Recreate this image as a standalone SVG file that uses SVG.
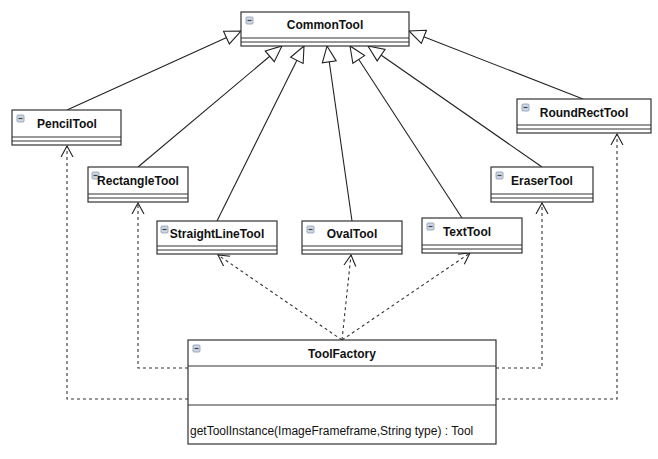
<svg xmlns="http://www.w3.org/2000/svg" width="658" height="459" viewBox="0 0 658 459">
<style>
.box{fill:#fff;stroke:#333;stroke-width:1.2}
.div{stroke:#333;stroke-width:1}
.t{font-family:"Liberation Sans",Arial,sans-serif;font-weight:bold;font-size:12px;fill:#111;text-anchor:middle}
.m{font-family:"Liberation Sans",Arial,sans-serif;font-size:12px;fill:#111}
.ic{fill:#cdd8e6;stroke:#8a9ab0;stroke-width:0.8}
.icd{stroke:#444;stroke-width:1.2}
.gen{fill:none;stroke:#222;stroke-width:1.1;marker-end:url(#tri)}
.dep{fill:none;stroke:#333;stroke-width:1.1;stroke-dasharray:3,3;marker-end:url(#open)}
</style>
<defs>
<marker id="tri" viewBox="0 0 18 16" refX="17" refY="8" markerWidth="18" markerHeight="16" markerUnits="userSpaceOnUse" orient="auto">
<path d="M1,1 L17,8 L1,15 Z" fill="#fff" stroke="#222" stroke-width="1.1"/>
</marker>
<marker id="open" viewBox="0 0 12 14" refX="11" refY="7" markerWidth="12" markerHeight="14" markerUnits="userSpaceOnUse" orient="auto">
<path d="M0,1 L11,7 L0,13" fill="none" stroke="#222" stroke-width="1.1"/>
</marker>
<g id="icon"><rect class="ic" x="0" y="0" width="7" height="7" rx="1"/><line class="icd" x1="1.5" y1="3.5" x2="5.5" y2="3.5"/></g>
</defs>

<g id="connectors">
<path class="gen" d="M67,110 L241,31"/>
<path class="gen" d="M138,167 L282,46"/>
<path class="gen" d="M217,221 L304,46"/>
<path class="gen" d="M352,221 L327,46"/>
<path class="gen" d="M462,218 L350,46"/>
<path class="gen" d="M542,167 L368,46"/>
<path class="gen" d="M583,99 L409,31"/>
<path class="dep" d="M188,399 H67 V146"/>
<path class="dep" d="M188,368 H138 V203"/>
<path class="dep" d="M496,368 H542 V203"/>
<path class="dep" d="M496,399 H617 V134"/>
<path class="dep" d="M342,340 L218,255"/>
<path class="dep" d="M342,340 L351,255"/>
<path class="dep" d="M342,340 L470,253"/>
</g>

<g id="CommonTool">
<rect class="box" x="241" y="12" width="168" height="34"/>
<line class="div" x1="241" y1="38" x2="409" y2="38"/>
<line class="div" x1="241" y1="42" x2="409" y2="42"/>
<use href="#icon" x="246" y="17"/>
<text class="t" x="325" y="29">CommonTool</text>
</g>

<g id="PencilTool">
<rect class="box" x="12" y="110" width="109" height="35"/>
<line class="div" x1="12" y1="137" x2="121" y2="137"/>
<line class="div" x1="12" y1="141" x2="121" y2="141"/>
<use href="#icon" x="17" y="115"/>
<text class="t" x="67" y="128">PencilTool</text>
</g>

<g id="RectangleTool">
<rect class="box" x="88" y="167" width="100" height="35"/>
<line class="div" x1="88" y1="194" x2="188" y2="194"/>
<line class="div" x1="88" y1="198" x2="188" y2="198"/>
<use href="#icon" x="92" y="172"/>
<text class="t" x="138" y="185">RectangleTool</text>
</g>

<g id="StraightLineTool">
<rect class="box" x="157" y="221" width="120" height="33"/>
<line class="div" x1="157" y1="246" x2="277" y2="246"/>
<line class="div" x1="157" y1="250" x2="277" y2="250"/>
<use href="#icon" x="161" y="226"/>
<text class="t" x="217" y="238">StraightLineTool</text>
</g>

<g id="OvalTool">
<rect class="box" x="302" y="221" width="100" height="33"/>
<line class="div" x1="302" y1="246" x2="402" y2="246"/>
<line class="div" x1="302" y1="250" x2="402" y2="250"/>
<use href="#icon" x="307" y="226"/>
<text class="t" x="352" y="238">OvalTool</text>
</g>

<g id="TextTool">
<rect class="box" x="422" y="218" width="100" height="35"/>
<line class="div" x1="422" y1="245" x2="522" y2="245"/>
<line class="div" x1="422" y1="249" x2="522" y2="249"/>
<use href="#icon" x="427" y="223"/>
<text class="t" x="467" y="236">TextTool</text>
</g>

<g id="EraserTool">
<rect class="box" x="491" y="167" width="102" height="35"/>
<line class="div" x1="491" y1="194" x2="593" y2="194"/>
<line class="div" x1="491" y1="198" x2="593" y2="198"/>
<use href="#icon" x="496" y="172"/>
<text class="t" x="542" y="185">EraserTool</text>
</g>

<g id="RoundRectTool">
<rect class="box" x="517" y="99" width="134" height="34"/>
<line class="div" x1="517" y1="125" x2="651" y2="125"/>
<line class="div" x1="517" y1="129" x2="651" y2="129"/>
<use href="#icon" x="522" y="104"/>
<text class="t" x="584" y="117">RoundRectTool</text>
</g>

<g id="ToolFactory">
<rect class="box" x="188" y="340" width="308" height="104"/>
<line class="div" x1="188" y1="366" x2="496" y2="366"/>
<line class="div" x1="188" y1="405" x2="496" y2="405"/>
<use href="#icon" x="193" y="345"/>
<text class="t" x="342" y="358">ToolFactory</text>
<text class="m" x="190" y="435">getToolInstance(ImageFrameframe,String type) : Tool</text>
</g>
</svg>
